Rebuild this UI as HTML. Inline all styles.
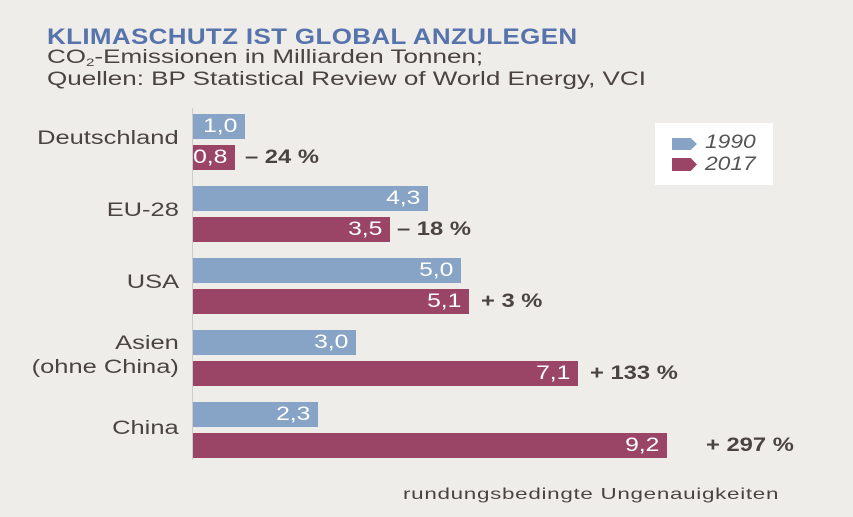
<!DOCTYPE html>
<html><head><meta charset="utf-8"><style>
body{margin:0;width:853px;height:517px;background:#efedea;position:relative;overflow:hidden;font-family:"Liberation Sans",sans-serif;}
div{position:absolute;white-space:nowrap;}
.b{left:193px;height:25px;color:#fff;font-size:19px;text-align:right;box-sizing:border-box;padding-right:8px;line-height:25px;}
.b span{display:inline-block;transform:scaleX(1.3);transform-origin:right center;}
.a{background:#87a3c5;}
.c{background:#9b4566;}
.l{color:#4a4440;font-size:19px;text-align:right;right:674px;transform:scaleX(1.34);transform-origin:right center;}
.p{color:#4a4440;font-size:19px;font-weight:bold;line-height:25px;transform:scaleX(1.25);transform-origin:left center;}
</style></head><body>
<div style="left:47px;top:24px;color:#5773ac;font-size:22px;font-weight:bold;letter-spacing:0.3px;transform:scaleX(1.18);transform-origin:left">KLIMASCHUTZ IST GLOBAL ANZULEGEN</div>
<div style="left:47px;top:47px;color:#4a4440;font-size:19px;line-height:22px;transform:scaleX(1.37);transform-origin:left">CO<span style="font-size:11px;vertical-align:-3px;line-height:0">2</span>-Emissionen in Milliarden Tonnen;<br>Quellen: BP Statistical Review of World Energy, VCI</div>

<div style="left:192px;top:108px;width:1px;height:352px;background:#ccc"></div>

<div class="l" style="top:128px">Deutschland</div>
<div class="b a" style="top:114px;width:52px"><span>1,0</span></div>
<div class="b c" style="top:145px;width:42px"><span>0,8</span></div>
<div class="p" style="left:245px;top:145px">– 24 %</div>

<div class="l" style="top:200px">EU-28</div>
<div class="b a" style="top:186px;width:235px"><span>4,3</span></div>
<div class="b c" style="top:217px;width:197px"><span>3,5</span></div>
<div class="p" style="left:397px;top:217px">– 18 %</div>

<div class="l" style="top:272px">USA</div>
<div class="b a" style="top:258px;width:268px"><span>5,0</span></div>
<div class="b c" style="top:289px;width:276px"><span>5,1</span></div>
<div class="p" style="left:481px;top:289px">+ 3 %</div>

<div class="l" style="top:332px;line-height:24px">Asien<br>(ohne China)</div>
<div class="b a" style="top:330px;width:163px"><span>3,0</span></div>
<div class="b c" style="top:361px;width:385px"><span>7,1</span></div>
<div class="p" style="left:590px;top:361px">+ 133 %</div>

<div class="l" style="top:418px">China</div>
<div class="b a" style="top:402px;width:125px"><span>2,3</span></div>
<div class="b c" style="top:433px;width:474px"><span>9,2</span></div>
<div class="p" style="left:706px;top:433px">+ 297 %</div>

<div style="left:655px;top:123px;width:118px;height:62px;background:#fff"></div>
<div style="left:672px;top:138px;width:25px;height:12px;background:#87a3c5;clip-path:polygon(0 0,75% 0,100% 50%,75% 100%,0 100%)"></div>
<div style="left:672px;top:158px;width:25px;height:13px;background:#9b4566;clip-path:polygon(0 0,75% 0,100% 50%,75% 100%,0 100%)"></div>
<div style="left:705px;top:132px;font-size:19px;font-style:italic;color:#555;line-height:22px;transform:scaleX(1.2);transform-origin:left">1990<br>2017</div>

<div style="left:403px;top:486px;font-size:16px;color:#4a4440;letter-spacing:0.5px;transform:scaleX(1.4);transform-origin:left">rundungsbedingte Ungenauigkeiten</div>
</body></html>
